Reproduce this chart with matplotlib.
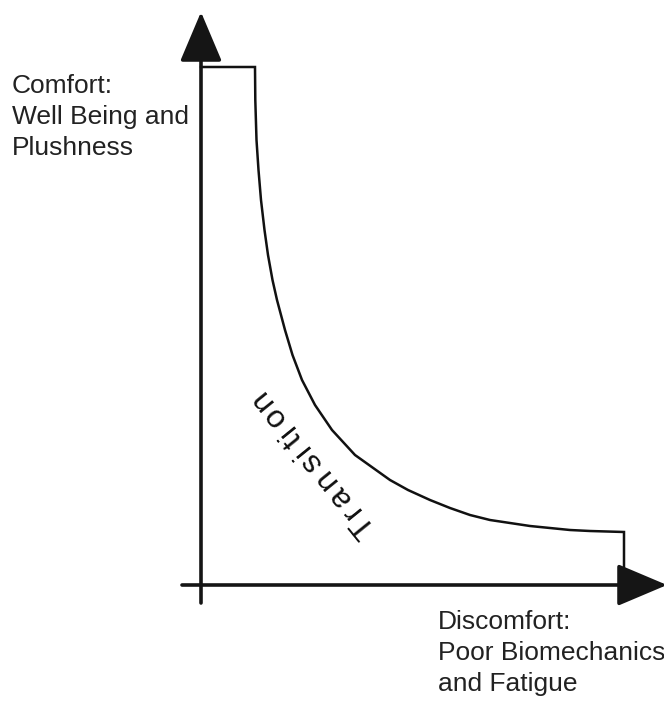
import matplotlib
matplotlib.use("Agg")
import numpy as np
import matplotlib.pyplot as plt

# кривая комфорта (единицы условные, начало координат - пересечение осей)
curve_x = [0, 54, 54.3, 55.5, 57.5, 60, 63.5, 67, 71.5, 76, 84, 91.5, 101, 114, 131, 154,
           189, 207, 229, 249, 269, 289, 309, 329, 349, 369, 389, 423, 423]
curve_y = [518, 518, 485, 445, 415, 385, 355, 330, 305, 285, 255, 230, 205, 180, 155, 130,
           105, 95, 85, 77, 70, 65, 62, 59, 57, 55, 54, 53, 0]

label_top = "Comfort:\nWell Being and\nPlushness"
label_bottom = "Discomfort:\nPoor Biomechanics\nand Fatigue"
label_curve = "Transition"

plt.rcParams['font.family'] = ['Liberation Sans', 'DejaVu Sans']

fig = plt.figure(figsize=(6.64, 7.02), dpi=100)
ax = fig.add_axes([0, 0, 1, 1])
ax.set_xlim(-201, 463)
ax.set_ylim(-117, 585)
ax.axis('off')

# оси со стрелками
arr = dict(arrowstyle='-|>,head_length=1.3,head_width=0.55', mutation_scale=24,
           lw=2.6, color='#151515', shrinkA=0, shrinkB=0)
ax.annotate('', xy=(0, 573), xytext=(0, -18), arrowprops=arr, annotation_clip=False)
ax.annotate('', xy=(466, 0), xytext=(-19, 0), arrowprops=arr, annotation_clip=False)

ax.plot(curve_x, curve_y, color='#111111', lw=1.8, solid_joinstyle='miter')

ax.text(-189, 511, label_top, fontsize=19, va='top', ha='left', color='#222222', linespacing=1.38)
ax.text(237, -25, label_bottom, fontsize=19, va='top', ha='left', color='#222222', linespacing=1.38)

# надпись вдоль кривой, буквы вразрядку
ang = np.deg2rad(129)
d = np.array([np.cos(ang), np.sin(ang)])
up = np.array([-np.sin(ang), np.cos(ang)])
fs = 23
em = fs * 100 / 72
widths = {'T': .611, 'r': .333, 'a': .556, 'n': .556, 's': .5, 'i': .222, 't': .278, 'o': .556}
track = 4.6
start = np.array([161.0, 58.0])  # центр буквы T
pos = 0.0
for k, ch in enumerate(label_curve):
    if k > 0:
        pos += (widths[label_curve[k - 1]] + widths[ch]) / 2 * em + track
    p = start + d * pos - up * 0.32 * em
    ax.text(p[0], p[1], ch, fontsize=fs, rotation=129, rotation_mode='anchor',
            ha='center', va='baseline', color='#111111')

fig.savefig('out.png', dpi=100)
